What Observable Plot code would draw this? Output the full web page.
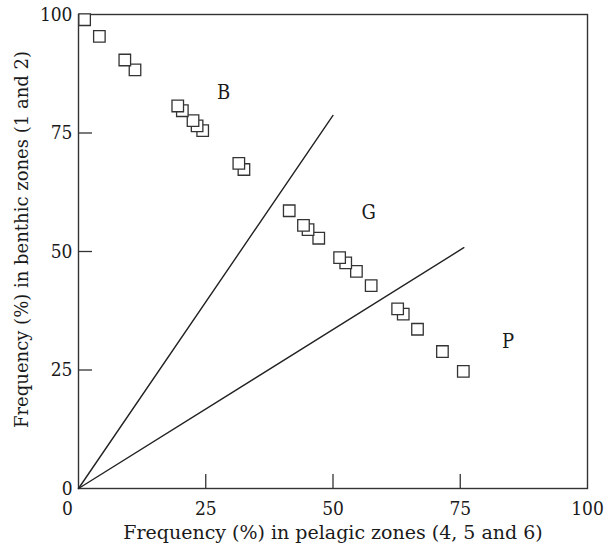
<!DOCTYPE html>
<html>
<head>
<meta charset="utf-8">
<script src="https://cdn.jsdelivr.net/npm/d3@7"></script>
<script src="https://cdn.jsdelivr.net/npm/@observablehq/plot@0.6"></script>
<style>
  html, body { margin: 0; padding: 0; background: #fff; }
</style>
</head>
<body>
<div id="chart"></div>
<script>
// Frequency (%) in pelagic zones (4, 5 and 6)
const pelagic = [1.2, 4.1, 9.1, 11.1, 19.5, 20.4, 22.5, 23.3, 24.4, 31.5, 32.5,
                 41.4, 44.2, 45.1, 47.2, 51.3, 52.5, 54.6, 57.5, 62.7, 63.8, 66.6, 71.5, 75.6];
// Frequency (%) in benthic zones (1 and 2)
const benthic = [98.9, 95.4, 90.4, 88.3, 80.7, 79.7, 77.6, 76.5, 75.5, 68.6, 67.3,
                 58.6, 55.5, 54.6, 52.8, 48.7, 47.6, 45.8, 42.8, 37.9, 36.8, 33.6, 28.9, 24.7];
// Boundary lines from the origin
const lineNames = ["B/G", "G/P"];
const lineEndX = [50.0, 75.7];
const lineEndY = [78.7, 50.8];
// Zone labels
const zoneLabels = ["B", "G", "P"];
const zoneX = [28.5, 57.0, 84.4];
const zoneY = [83.6, 58.2, 30.9];
const xTickValues = [25, 50, 75, 100];
const xZeroTick = [0];
const yTickValues = [0, 25, 50, 75, 100];
const innerTicks = [25, 50, 75];
const xTitle = "Frequency (%) in pelagic zones (4, 5 and 6)";
const yTitle = "Frequency (%) in benthic zones (1 and 2)";

const points = pelagic.map((x, i) => ({x, y: benthic[i]})).reverse();
const lines = lineNames.flatMap((name, i) => [
  {name, x: 0, y: 0},
  {name, x: lineEndX[i], y: lineEndY[i]}
]);
const labels = zoneLabels.map((t, i) => ({t, x: zoneX[i], y: zoneY[i]}));

const W = 607, H = 551;
const mL = 78, mR = 20, mT = 14, mB = 63;
const innerW = W - mL - mR, innerH = H - mT - mB;
const tickLen = 14;
const font = "'DejaVu Serif Condensed', 'DejaVu Serif', serif";
const titleFont = "'DejaVu Serif', serif";
const ink = "#1a1a1a";

const chart = Plot.plot({
  width: W,
  height: H,
  marginLeft: mL,
  marginRight: mR,
  marginTop: mT,
  marginBottom: mB,
  style: {fontFamily: font, background: "#fff", color: ink},
  x: {domain: [0, 100], label: null},
  y: {domain: [0, 100], label: null},
  marks: [
    Plot.frame({stroke: "#333", strokeWidth: 1.4}),
    Plot.tickX(innerTicks, {x: d => d, stroke: "#333", strokeWidth: 1.3, insetTop: innerH - tickLen}),
    Plot.tickY(innerTicks, {y: d => d, stroke: "#333", strokeWidth: 1.3, insetRight: innerW - tickLen}),
    Plot.axisX({ticks: xTickValues, tickSize: 0, tickPadding: 13, fontSize: 19, label: null}),
    Plot.axisX({ticks: xZeroTick, tickSize: 0, tickPadding: 13, fontSize: 19, dx: -11, label: null}),
    Plot.axisY({ticks: yTickValues, tickSize: 0, tickPadding: 6, fontSize: 19, label: null}),
    Plot.text([xTitle], {frameAnchor: "bottom", dy: 50, fontSize: 19, fontFamily: titleFont, fill: ink}),
    Plot.text([yTitle], {frameAnchor: "left", textAnchor: "middle", dx: -56, dy: -12, rotate: -90, fontSize: 18, fontFamily: titleFont, fill: ink}),
    Plot.line(lines, {x: "x", y: "y", z: "name", stroke: "#222", strokeWidth: 1.4}),
    Plot.dot(points, {x: "x", y: "y", symbol: "square", r: 6.5, fill: "white", stroke: "#333", strokeWidth: 1.3}),
    Plot.text(labels, {x: "x", y: "y", text: "t", fontSize: 20, fill: ink})
  ]
});
document.getElementById("chart").appendChild(chart);
</script>
</body>
</html>
